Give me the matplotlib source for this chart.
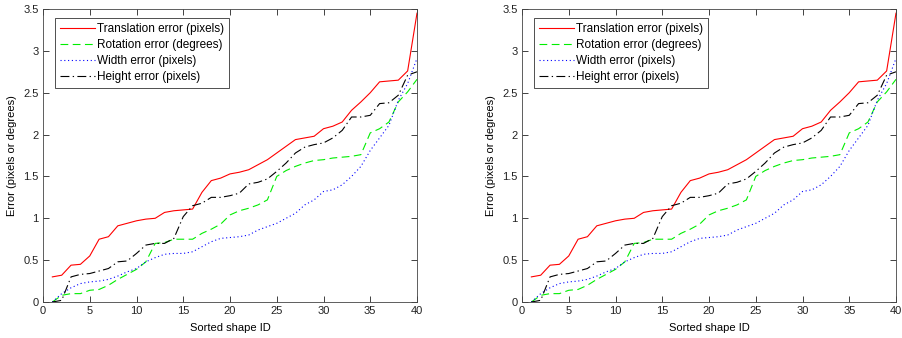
import matplotlib
matplotlib.use("Agg")
import matplotlib.pyplot as plt

plt.rcParams['font.family'] = ['Liberation Sans', 'DejaVu Sans']

shape_id = list(range(1, 41))
translation = [0.30, 0.32, 0.44, 0.45, 0.55, 0.75, 0.78, 0.91, 0.94, 0.97,
               0.99, 1.00, 1.07, 1.09, 1.10, 1.11, 1.31, 1.45, 1.48, 1.53,
               1.55, 1.58, 1.64, 1.70, 1.78, 1.86, 1.94, 1.96, 1.98, 2.07,
               2.10, 2.15, 2.29, 2.39, 2.50, 2.63, 2.64, 2.65, 2.76, 3.45]
rotation = [0.00, 0.08, 0.10, 0.10, 0.14, 0.15, 0.20, 0.27, 0.33, 0.39,
            0.48, 0.70, 0.71, 0.75, 0.75, 0.75, 0.82, 0.87, 0.93, 1.04,
            1.09, 1.12, 1.16, 1.22, 1.50, 1.57, 1.62, 1.66, 1.69, 1.70,
            1.72, 1.73, 1.74, 1.76, 2.02, 2.07, 2.15, 2.39, 2.51, 2.66]
width_err = [0.00, 0.10, 0.17, 0.22, 0.24, 0.25, 0.27, 0.31, 0.36, 0.40,
             0.48, 0.53, 0.57, 0.58, 0.58, 0.60, 0.66, 0.72, 0.76, 0.77,
             0.78, 0.80, 0.86, 0.90, 0.94, 1.00, 1.06, 1.16, 1.22, 1.32,
             1.34, 1.40, 1.50, 1.62, 1.81, 1.96, 2.11, 2.41, 2.61, 2.91]
height_err = [0.00, 0.02, 0.30, 0.33, 0.34, 0.37, 0.40, 0.48, 0.49, 0.58,
              0.68, 0.70, 0.70, 0.76, 1.02, 1.15, 1.18, 1.25, 1.25, 1.27,
              1.30, 1.41, 1.43, 1.47, 1.56, 1.66, 1.78, 1.85, 1.88, 1.90,
              1.96, 2.05, 2.21, 2.21, 2.23, 2.37, 2.38, 2.47, 2.71, 2.75]

labels = ['Translation error (pixels)', 'Rotation error (degrees)',
          'Width error (pixels)', 'Height error (pixels)']
xticks = [0, 5, 10, 15, 20, 25, 30, 35, 40]
yticks = [0, 0.5, 1, 1.5, 2, 2.5, 3, 3.5]
yticklabels = ['0', '0.5', '1', '1.5', '2', '2.5', '3', '3.5']

fig = plt.figure(figsize=(9.03, 3.38), dpi=100)
positions = [[43/903, 36/338, 374/903, 293/338],
             [522/903, 36/338, 374/903, 293/338]]

for pos in positions:
    ax = fig.add_axes(pos)
    ax.plot(shape_id, translation, color='#ff0000', lw=0.8, ls='-', label=labels[0])
    ax.plot(shape_id, rotation, color='#00ee00', lw=0.8, ls=(0, (7, 4)), label=labels[1])
    ax.plot(shape_id, width_err, color='#0000ff', lw=0.8, ls=(0, (1, 2.4)), label=labels[2])
    ax.plot(shape_id, height_err, color='#000000', lw=0.8, ls=(0, (8, 3, 1.2, 3)), label=labels[3])
    ax.set_xlim(0, 40)
    ax.set_ylim(0, 3.5)
    ax.set_xticks(xticks)
    ax.set_yticks(yticks)
    ax.set_yticklabels(yticklabels)
    ax.tick_params(direction='in', length=4, width=0.6, labelsize=8, top=True, right=True, pad=3,
                   colors='#222222')
    for s in ax.spines.values():
        s.set_linewidth(0.6)
        s.set_color('#444444')
    ax.set_xlabel('Sorted shape ID', fontsize=8, labelpad=5)
    ax.set_ylabel('Error (pixels or degrees)', fontsize=8, labelpad=5)
    leg = ax.legend(loc='upper left', bbox_to_anchor=(12/374, 1 - 9/293), borderaxespad=0,
                    fontsize=8.5, frameon=True, fancybox=False,
                    edgecolor='black', handlelength=3.0, handletextpad=0.15,
                    labelspacing=0.36, borderpad=0.4)
    leg.get_frame().set_linewidth(0.6)

fig.savefig('out.png', dpi=100)
